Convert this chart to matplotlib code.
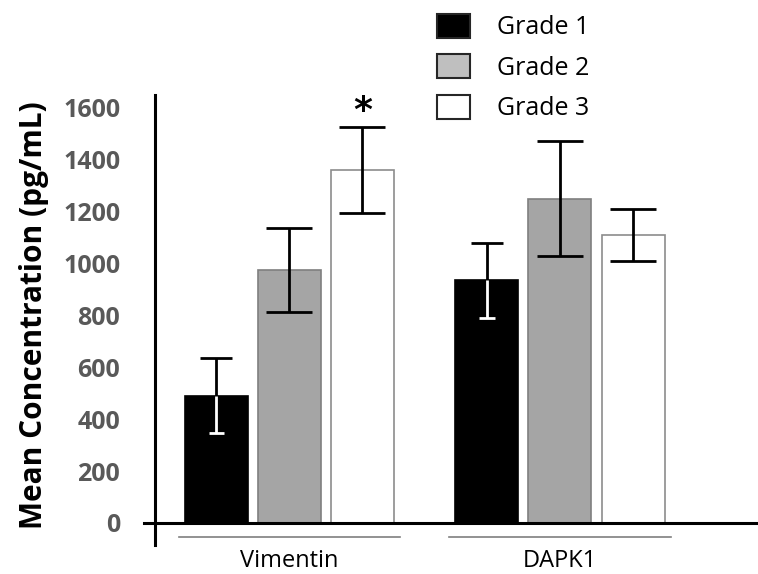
import numpy as np
import matplotlib
matplotlib.use("Agg")
import matplotlib.pyplot as plt
from matplotlib.patches import Patch

# Datos
marcadores = ["Vimentin", "DAPK1"]
grados = ["Grade 1", "Grade 2", "Grade 3"]
medias = {
    "Grade 1": [490, 935],
    "Grade 2": [975, 1250],
    "Grade 3": [1360, 1110],
}
errores = {
    "Grade 1": [145, 144],
    "Grade 2": [162, 221],
    "Grade 3": [165, 100],
}
significativo = [("Vimentin", "Grade 3")]
yticks = [0, 200, 400, 600, 800, 1000, 1200, 1400, 1600]

# Estilo
plt.rcParams['font.family'] = ['Open Sans', 'DejaVu Sans']
relleno = {"Grade 1": "black", "Grade 2": "#a5a5a5", "Grade 3": "white"}
borde = {"Grade 1": "black", "Grade 2": "#7f7f7f", "Grade 3": "#8c8c8c"}
relleno_leyenda = {"Grade 1": "black", "Grade 2": "#bfbfbf", "Grade 3": "white"}
tapa = {"Grade 1": 11.5, "Grade 2": 16.5, "Grade 3": 16.5}

fig = plt.figure(figsize=(7.58, 5.74), dpi=100)
ax = fig.add_axes([155 / 758, 29 / 574, 603 / 758, 450 / 574])

x = np.arange(len(marcadores))
paso = 0.27
ancho = 0.233

for i, g in enumerate(grados):
    pos = x + (i - 1) * paso
    ax.bar(pos, medias[g], width=ancho, color=relleno[g], edgecolor=borde[g],
           linewidth=1.2, zorder=2)
    ax.errorbar(pos, medias[g], yerr=errores[g], fmt='none', ecolor='black',
                elinewidth=2, capsize=tapa[g], capthick=2, zorder=3)
    # sobre la barra negra la parte inferior se ve blanca
    if relleno[g] == "black":
        bajo = np.array(medias[g]) - np.array(errores[g])
        ax.vlines(pos, bajo, medias[g], color='white', linewidth=2, zorder=4)
        ax.hlines(bajo, pos - 0.028, pos + 0.028, color='white', linewidth=2, zorder=4)

# Asterisco de significancia
for m, g in significativo:
    i = marcadores.index(m)
    k = grados.index(g)
    ax.annotate("*", xy=(x[i] + (k - 1) * paso, medias[g][i] + errores[g][i]),
                xytext=(0, 12), textcoords='offset points', ha='center', va='center',
                fontsize=26, fontweight='bold', family='DejaVu Sans')

# Ejes
ax.set_xlim(-0.497, 1.732)
ax.set_ylim(-85, 1650)
ax.set_yticks(yticks)
ax.set_yticklabels([str(v) for v in yticks], fontsize=18, fontweight='bold', color='#595959')
ax.tick_params(axis='y', length=0, pad=25)
ax.set_xticks(x)
ax.set_xticklabels(marcadores, fontsize=17)
ax.tick_params(axis='x', length=0, pad=3)

for s in ['top', 'right', 'bottom']:
    ax.spines[s].set_visible(False)
ax.spines['left'].set_linewidth(2.2)

ax.axhline(0, xmin=-11 / 603, xmax=1, color='black', linewidth=2.2, clip_on=False, zorder=5)

# Lineas bajo cada categoria
for c in x:
    ax.plot([c - 0.41, c + 0.41], [-54, -54], color='#7f7f7f', linewidth=1.2, clip_on=False)

ax.set_ylabel("Mean Concentration (pg/mL)", fontsize=21.5, fontweight='bold')
ax.yaxis.set_label_coords(-106 / 603, 0.51)

# Leyenda
manijas = [Patch(facecolor=relleno_leyenda[g], edgecolor='#262626', linewidth=1.5) for g in grados]
fig.legend(manijas, grados, loc='upper left', bbox_to_anchor=(437 / 758, 1 - 14 / 574),
           frameon=False, fontsize=18, handlelength=1.3, handleheight=1.1,
           labelspacing=0.55, handletextpad=1.1, borderpad=0, borderaxespad=0)

fig.savefig("out.png", dpi=100, facecolor='white')
